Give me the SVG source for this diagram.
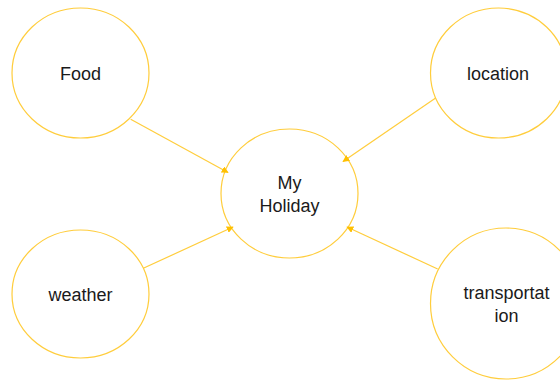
<svg xmlns="http://www.w3.org/2000/svg" width="560" height="380" viewBox="0 0 560 380">
  <defs>
    <style>
      .node { fill: #FFFFFF; stroke: #FFCD3C; stroke-width: 1.2; }
      .lbl { font-family: "Liberation Sans", Arial, sans-serif; font-size: 18px; fill: #1a1a1a; text-anchor: middle; }
      .conn { stroke: #FFCD3C; stroke-width: 1.2; fill: none; marker-end: url(#arrow); }
    </style>
    <marker id="arrow" viewBox="0 0 10 10" refX="9" refY="5" markerWidth="7" markerHeight="7" markerUnits="userSpaceOnUse" orient="auto">
      <path d="M0,0 L10,5 L0,10 z" fill="#FFC000"/>
    </marker>
  </defs>
  <rect width="560" height="380" fill="#FFFFFF"/>
  <g id="food">
    <ellipse class="node" cx="80.5" cy="73" rx="68.5" ry="65"/>
    <text class="lbl" x="80.5" y="79.5">Food</text>
  </g>
  <g id="location">
    <ellipse class="node" cx="498.5" cy="73" rx="68" ry="65"/>
    <text class="lbl" x="498" y="79.5">location</text>
  </g>
  <g id="my-holiday">
    <ellipse class="node" cx="289.5" cy="193.5" rx="68.5" ry="64.5"/>
    <text class="lbl" x="289.5" y="189">My</text>
    <text class="lbl" x="289.5" y="211.5">Holiday</text>
  </g>
  <g id="weather">
    <ellipse class="node" cx="80.5" cy="294" rx="68.5" ry="64"/>
    <text class="lbl" x="80.5" y="301">weather</text>
  </g>
  <g id="transportation">
    <ellipse class="node" cx="506" cy="303.5" rx="75.5" ry="75.5"/>
    <text class="lbl" x="506.5" y="299">transportat</text>
    <text class="lbl" x="506.5" y="321.5">ion</text>
  </g>
  <g id="connectors">
    <line class="conn" x1="130.7" y1="119.3" x2="228" y2="172.5"/>
    <line class="conn" x1="436" y1="97.7" x2="343" y2="161.5"/>
    <line class="conn" x1="143.3" y1="268.3" x2="233" y2="227"/>
    <line class="conn" x1="437.7" y1="269" x2="347" y2="227"/>
  </g>
</svg>
